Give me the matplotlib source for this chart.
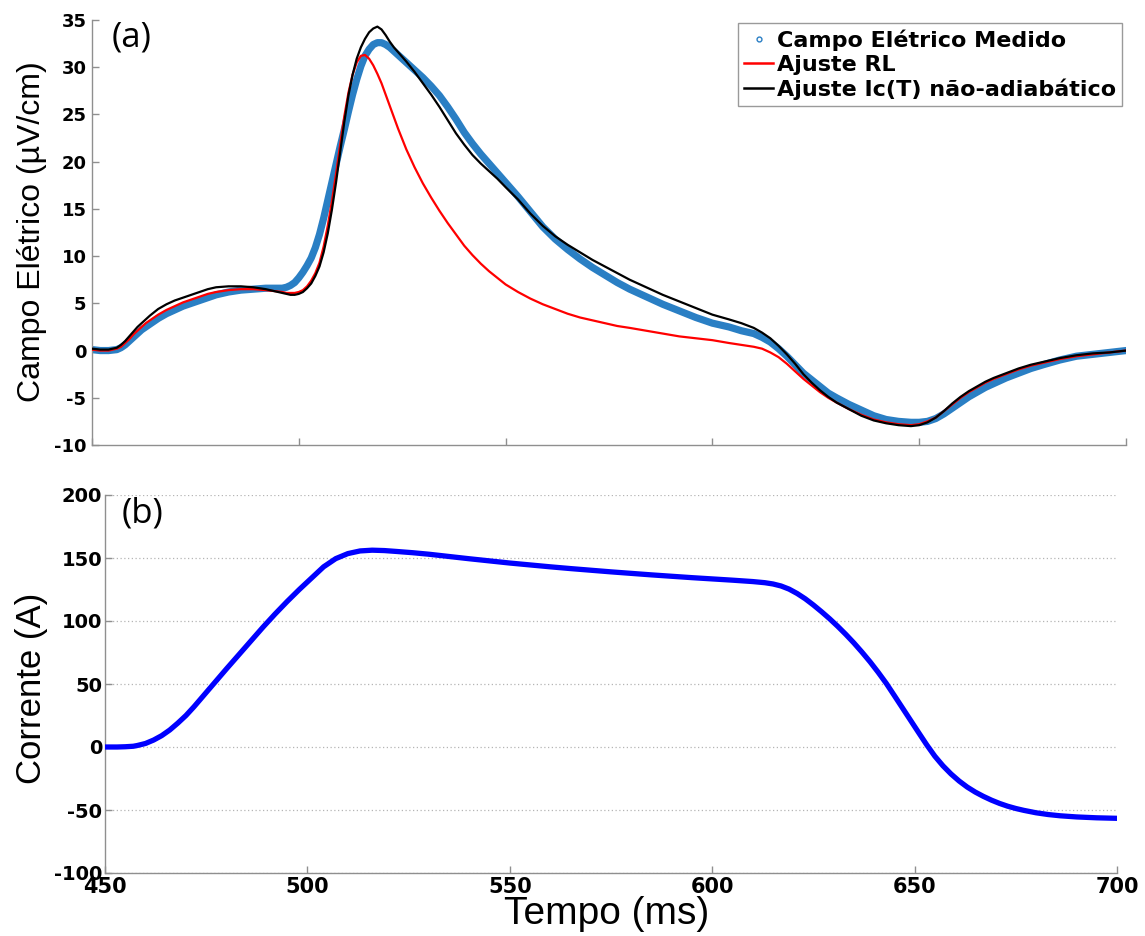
import matplotlib
matplotlib.use("Agg")
import matplotlib.pyplot as plt
from matplotlib.lines import Line2D

# ---------------- data ----------------
# panel (a): electric field (uV/cm) vs time (ms)
t_field = [450, 452, 454, 456, 457, 458, 459, 460, 461, 462,
           463, 464, 466, 468, 470, 472, 474, 476, 478, 480,
           483, 486, 489, 492, 494, 496, 497, 498, 499, 500,
           501, 502, 503, 504, 505, 506, 507, 508, 509, 510,
           511, 512, 513, 514, 515, 516, 517, 518, 519, 520,
           521, 522, 523, 524, 526, 528, 530, 532, 534, 536,
           538, 540, 542, 544, 546, 548, 550, 553, 556, 559,
           562, 565, 568, 571, 574, 577, 580, 584, 588, 592,
           596, 600, 604, 607, 610, 612, 614, 616, 618, 620,
           622, 624, 626, 628, 630, 633, 636, 639, 642, 645,
           648, 650, 652, 654, 656, 658, 660, 662, 664, 666,
           668, 671, 674, 677, 680, 684, 688, 692, 696, 700]

e_measured = [0.1, 0.0, 0.0, 0.1, 0.3, 0.6, 1.0, 1.4, 1.8, 2.2,
              2.5, 2.8, 3.4, 3.9, 4.3, 4.7, 5.0, 5.3, 5.6, 5.9,
              6.2, 6.4, 6.5, 6.6, 6.6, 6.6, 6.7, 6.9, 7.2, 7.7,
              8.3, 9.0, 9.8, 10.9, 12.3, 14.0, 15.9, 17.8, 19.7, 21.6,
              23.4, 25.3, 27.1, 28.7, 30.1, 31.2, 31.9, 32.4, 32.6, 32.6,
              32.4, 32.1, 31.7, 31.3, 30.5, 29.7, 28.9, 28.0, 27.0, 25.8,
              24.5, 23.1, 21.9, 20.8, 19.8, 18.8, 17.8, 16.3, 14.7, 13.1,
              11.8, 10.7, 9.7, 8.8, 8.0, 7.2, 6.5, 5.7, 4.9, 4.2,
              3.5, 2.9, 2.5, 2.1, 1.8, 1.4, 0.9, 0.2, -0.6, -1.5,
              -2.4, -3.1, -3.8, -4.5, -5.0, -5.7, -6.3, -6.9, -7.3, -7.5,
              -7.6, -7.6, -7.5, -7.2, -6.7, -6.1, -5.5, -4.9, -4.4, -3.9,
              -3.5, -2.9, -2.4, -1.9, -1.5, -1.0, -0.6, -0.4, -0.2, 0.0]

e_fit_rl = [0.1, 0.0, 0.0, 0.2, 0.4, 0.8, 1.2, 1.7, 2.1, 2.5,
            2.9, 3.2, 3.8, 4.3, 4.7, 5.1, 5.4, 5.7, 6.0, 6.2,
            6.4, 6.5, 6.5, 6.4, 6.3, 6.2, 6.1, 6.1, 6.1, 6.2,
            6.4, 6.8, 7.4, 8.2, 9.3, 11.0, 13.2, 15.8, 18.7, 21.8,
            24.8, 27.3, 29.2, 30.5, 31.2, 31.3, 30.9, 30.2, 29.3, 28.3,
            27.1, 25.9, 24.7, 23.5, 21.3, 19.4, 17.7, 16.2, 14.8, 13.5,
            12.3, 11.1, 10.1, 9.2, 8.4, 7.7, 7.0, 6.2, 5.5, 4.9,
            4.4, 3.9, 3.5, 3.2, 2.9, 2.6, 2.4, 2.1, 1.8, 1.5,
            1.3, 1.1, 0.8, 0.6, 0.4, 0.2, -0.2, -0.7, -1.4, -2.2,
            -3.0, -3.7, -4.4, -5.0, -5.5, -6.2, -6.8, -7.3, -7.6, -7.8,
            -7.9, -7.8, -7.5, -7.1, -6.4, -5.7, -5.0, -4.4, -3.9, -3.4,
            -3.0, -2.5, -2.0, -1.6, -1.3, -0.9, -0.6, -0.4, -0.2, 0.0]

e_fit_ic = [0.2, 0.1, 0.1, 0.3, 0.6, 1.0, 1.5, 2.0, 2.5, 2.9,
            3.3, 3.7, 4.4, 4.9, 5.3, 5.6, 5.9, 6.2, 6.5, 6.7,
            6.8, 6.8, 6.7, 6.5, 6.3, 6.1, 6.0, 5.9, 5.9, 6.0,
            6.2, 6.6, 7.1, 7.9, 8.9, 10.4, 12.4, 14.9, 17.8, 21.0,
            24.2, 27.0, 29.2, 30.9, 32.1, 33.0, 33.7, 34.1, 34.3, 34.0,
            33.4, 32.7, 32.1, 31.6, 30.6, 29.5, 28.3, 27.1, 25.8, 24.4,
            23.0, 21.8, 20.7, 19.8, 19.0, 18.2, 17.3, 16.0, 14.5, 13.2,
            12.1, 11.2, 10.4, 9.6, 8.9, 8.2, 7.5, 6.7, 5.9, 5.2,
            4.5, 3.8, 3.3, 2.9, 2.4, 1.9, 1.3, 0.5, -0.4, -1.4,
            -2.5, -3.4, -4.2, -4.9, -5.5, -6.2, -6.9, -7.4, -7.7, -7.9,
            -8.0, -7.9, -7.6, -7.1, -6.4, -5.6, -4.9, -4.3, -3.8, -3.3,
            -2.9, -2.4, -1.9, -1.5, -1.2, -0.8, -0.5, -0.3, -0.2, 0.0]

# panel (b): current (A) vs time (ms)
t_current = [450, 453, 455, 457, 458, 460, 462, 464, 466, 468,
             470, 472, 474, 476, 478, 480, 483, 486, 489, 492,
             495, 498, 501, 504, 507, 510, 513, 516, 519, 522,
             526, 530, 535, 540, 545, 550, 555, 560, 565, 570,
             575, 580, 585, 590, 595, 600, 605, 610, 613, 615,
             617, 619, 621, 623, 625, 627, 629, 631, 633, 635,
             637, 639, 641, 643, 645, 647, 649, 651, 653, 655,
             657, 659, 661, 663, 665, 667, 669, 671, 673, 675,
             677, 680, 683, 686, 690, 695, 700]

current = [0.0, 0.0, 0.2, 0.6, 1.2, 2.8, 5.5, 9.0, 13.5, 19.0,
           25.0, 32.0, 39.5, 47.0, 54.5, 62.0, 73.0, 84.0, 95.0, 105.5,
           115.5, 125.0, 134.0, 143.0, 149.5, 153.5, 155.6, 156.2, 155.9, 155.2,
           154.2, 153.0, 151.2, 149.4, 147.7, 146.0, 144.5, 143.0, 141.6, 140.3,
           139.0, 137.8, 136.6, 135.5, 134.4, 133.4, 132.4, 131.3, 130.4, 129.4,
           127.8, 125.3, 121.8, 117.6, 112.7, 107.4, 101.8, 95.8, 89.4, 82.6,
           75.3, 67.6, 59.3, 50.5, 40.8, 31.0, 21.2, 11.4, 1.7, -7.3,
           -14.9, -21.4, -27.0, -31.8, -35.8, -39.2, -42.2, -44.8, -47.0, -48.8,
           -50.3, -52.2, -53.6, -54.6, -55.5, -56.2, -56.6]

x_ticks = [450, 500, 550, 600, 650, 700]
field_ticks = [-10, -5, 0, 5, 10, 15, 20, 25, 30, 35]
current_ticks = [-100, -50, 0, 50, 100, 150, 200]

legend_labels = ["Campo Elétrico Medido", "Ajuste RL", "Ajuste Ic(T) não-adiabático"]

# ---------------- style ----------------
W, H = 1145, 936
fig = plt.figure(figsize=(W / 100, H / 100), dpi=100)

spine_col = "#8f8f8f"
c_meas = "#2a7fc4"
label_font = "Liberation Sans"


def px_axes(left, top, right, bottom):
    return fig.add_axes([left / W, 1 - bottom / H, (right - left) / W, (bottom - top) / H])


def style_axes(ax, ysize):
    for s in ("top", "right"):
        ax.spines[s].set_visible(False)
    for s in ("left", "bottom"):
        ax.spines[s].set_color(spine_col)
        ax.spines[s].set_linewidth(1.0)
    ax.tick_params(direction="in", length=5, width=1, color=spine_col)
    for lab in ax.get_yticklabels():
        lab.set_fontfamily("DejaVu Sans")
        lab.set_fontweight("bold")
        lab.set_fontsize(ysize)


# ---------------- panel (a) ----------------
ax1 = px_axes(92, 20, 1126, 445)
ax1.plot(t_field, e_measured, color=c_meas, lw=5.2, solid_capstyle="round", zorder=2)
ax1.plot(t_field, e_fit_rl, color="#ff0000", lw=1.6, zorder=3)
ax1.plot(t_field, e_fit_ic, color="black", lw=1.6, zorder=4)
ax1.set_xlim(450, 700)
ax1.set_ylim(-10, 35)
ax1.set_xticks(x_ticks)
ax1.set_xticklabels([])
ax1.set_yticks(field_ticks)
ax1.set_yticklabels([str(v) for v in field_ticks])
style_axes(ax1, 13)
ax1.tick_params(axis="y", pad=4)
ax1.set_ylabel("Campo Elétrico (µV/cm)", fontfamily=label_font, fontsize=23)
ax1.yaxis.set_label_coords(-0.044, 0.503)
ax1.text(0.019, 0.958, "(a)", transform=ax1.transAxes, fontfamily="Open Sans",
         fontsize=25, ha="left", va="center")

handles = [
    Line2D([], [], marker="o", ls="none", mfc="none", mec=c_meas, ms=3.5, mew=1.0),
    Line2D([], [], color="#ff0000", lw=1.8),
    Line2D([], [], color="black", lw=1.8),
]
leg = ax1.legend(handles, legend_labels, loc="upper right",
                 bbox_to_anchor=(0.9965, 0.993), borderaxespad=0,
                 prop=dict(family="DejaVu Sans", weight="bold", size=16),
                 fancybox=False, framealpha=1, edgecolor="#9a9a9a",
                 handlelength=1.3, handletextpad=0.15, labelspacing=0.16,
                 borderpad=0.3)
leg.get_frame().set_linewidth(1.0)

# ---------------- panel (b) ----------------
ax2 = px_axes(105, 495, 1117, 873)
ax2.plot(t_current, current, color="#0000ff", lw=3.8, solid_capstyle="round", zorder=3)
ax2.set_xlim(450, 700)
ax2.set_ylim(-100, 200)
ax2.set_xticks(x_ticks)
ax2.set_xticklabels([str(v) for v in x_ticks])
ax2.set_yticks(current_ticks)
ax2.set_yticklabels([str(v) for v in current_ticks])
ax2.yaxis.grid(True, linestyle=(0, (1, 2)), color="#b5b5b5", lw=0.9)
ax2.set_axisbelow(True)
style_axes(ax2, 14)
ax2.tick_params(axis="y", pad=2)
ax2.tick_params(axis="x", pad=3)
for lab in ax2.get_xticklabels():
    lab.set_fontfamily("DejaVu Sans")
    lab.set_fontweight("bold")
    lab.set_fontsize(15)
ax2.set_ylabel("Corrente (A)", fontfamily=label_font, fontsize=25)
ax2.yaxis.set_label_coords(-0.056, 0.489)
ax2.set_xlabel("Tempo (ms)", fontfamily=label_font, fontsize=28)
ax2.xaxis.set_label_coords(0.496, -0.061)
ax2.text(0.016, 0.952, "(b)", transform=ax2.transAxes, fontfamily="Open Sans",
         fontsize=25, ha="left", va="center")

fig.savefig("out.png", dpi=100)
